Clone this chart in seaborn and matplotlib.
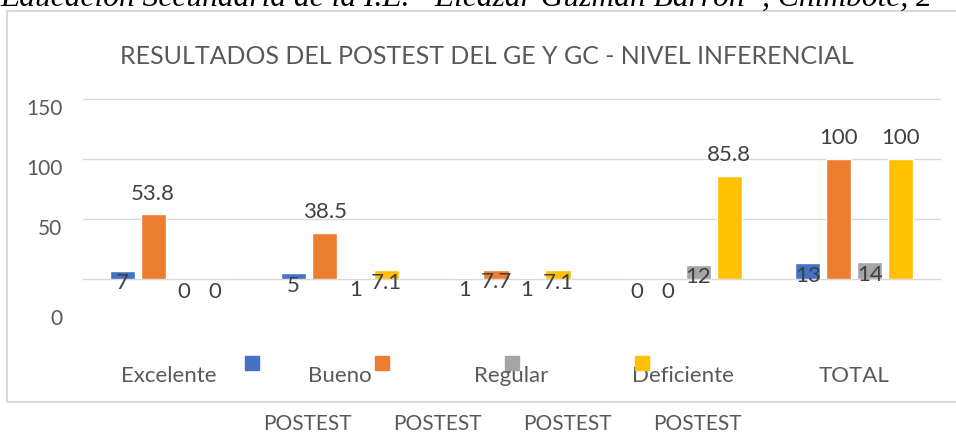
"""Gráfico de barras: resultados del postest GE y GC - nivel inferencial."""
import matplotlib
matplotlib.use("Agg")
import matplotlib.pyplot as plt
from matplotlib.patches import Rectangle
from matplotlib.transforms import ScaledTranslation
import pandas as pd
import seaborn as sns

# Datos del gráfico
niveles = ["Excelente", "Bueno", "Regular", "Deficiente", "TOTAL"]
series = ["GE fi", "GE %", "GC fi", "GC %"]
ge_fi = [7, 5, 1, 0, 13]
ge_pct = [53.8, 38.5, 7.7, 0, 100]
gc_fi = [0, 1, 1, 12, 14]
gc_pct = [0, 7.1, 7.1, 85.8, 100]
leyenda = ["POSTEST", "POSTEST", "POSTEST", "POSTEST"]
colores = ["#4472C4", "#ED7D31", "#A5A5A5", "#FFC000"]
y_ticks = [0, 50, 100, 150]
titulo = "RESULTADOS DEL POSTEST DEL GE Y GC - NIVEL INFERENCIAL"
encabezado = "Educación Secundaria de la I.E. “Eleazar Guzmán Barrón”, Chimbote, 2"

GRIS_TEXTO = "#595959"
GRIS_ETIQUETA = "#404040"
GRIS_LINEA = "#D9D9D9"
W, H = 956, 434


def fx(x):
    """Pixel -> fracción de figura (horizontal)."""
    return x / W


def fy(y):
    """Pixel desde arriba -> fracción de figura (vertical)."""
    return 1 - y / H


def main() -> None:
    sns.set_theme(style="white")
    plt.rcParams["font.family"] = ["Lato", "DejaVu Sans"]

    df = pd.DataFrame({
        "nivel": niveles * len(series),
        "serie": [s for s in series for _ in niveles],
        "valor": ge_fi + ge_pct + gc_fi + gc_pct,
    })

    fig = plt.figure(figsize=(W / 100, H / 100), dpi=100)
    ax = fig.add_axes([fx(83), fy(279), fx(940 - 83), (279 - 99) / H])

    sns.barplot(data=df, x="nivel", y="valor", hue="serie", order=niveles,
                hue_order=series, palette=colores, width=0.724, gap=0.19,
                saturation=1, errorbar=None, legend=False, ax=ax)

    ax.set_xlim(-0.5, 4.5)
    ax.set_ylim(0, 150)
    ax.set_yticks(y_ticks)
    ax.set_xlabel("")
    ax.set_ylabel("")
    sns.despine(ax=ax, left=True, bottom=True)
    ax.grid(axis="y", color=GRIS_LINEA, lw=1.0)
    ax.set_axisbelow(True)
    for linea in ax.yaxis.get_gridlines():
        linea.set_clip_on(False)

    ax.tick_params(axis="both", length=0, labelcolor=GRIS_TEXTO)
    ax.tick_params(axis="y", pad=15, labelsize=15)
    ax.tick_params(axis="x", pad=63, labelsize=16)

    # Etiquetas del eje Y desplazadas hacia abajo (como en el original)
    for lbl, t in zip(ax.get_yticklabels(), y_ticks):
        dy = -38 if t == 0 else -8
        lbl.set_transform(lbl.get_transform()
                          + ScaledTranslation(0, dy / 100, fig.dpi_scale_trans))

    # Etiquetas de datos
    for cont in ax.containers:
        for barra in cont:
            v = barra.get_height()
            x = barra.get_x() + barra.get_width() / 2
            off = 15 if v >= 30 else -9
            ax.annotate(f"{v:g}", (x, v), xytext=(0, off), textcoords="offset points",
                        ha="center", va="center", fontsize=16, color=GRIS_ETIQUETA,
                        annotation_clip=False)

    # Leyenda (cuadros de color y textos)
    for i, (c, lab) in enumerate(zip(colores, leyenda)):
        x0 = 245 + 130 * i
        fig.add_artist(Rectangle((fx(x0), fy(370)), 14 / W, 14 / H,
                                 transform=fig.transFigure, color=c))
        fig.text(fx(x0 + 62), fy(424), lab, ha="center", va="center",
                 fontsize=15, color=GRIS_TEXTO)

    # Marco del gráfico
    fig.add_artist(Rectangle((fx(7), fy(402)), 1.0, (402 - 11) / H,
                             transform=fig.transFigure, fill=False,
                             edgecolor=GRIS_LINEA, lw=1.5))

    fig.text(fx(487), fy(57), titulo, ha="center", va="center",
             fontsize=18, color=GRIS_TEXTO)

    # Línea de texto del documento, cortada arriba
    fig.text(0, fy(6), encabezado, ha="left", va="baseline", fontsize=22.7,
             family=["Liberation Serif"], style="italic", color="black")

    fig.savefig("out.png", dpi=100)
    plt.close(fig)


if __name__ == "__main__":
    main()
